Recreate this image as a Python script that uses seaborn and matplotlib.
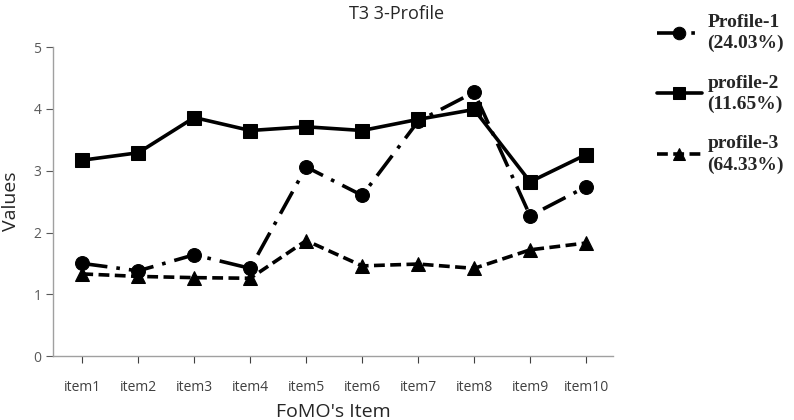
#!/usr/bin/env python3

# T3 3-profile plot of FoMO item means

import matplotlib
matplotlib.use("Agg")
import matplotlib.pyplot as plt
import seaborn as sns
import pandas as pd

items = ["item1", "item2", "item3", "item4", "item5",
         "item6", "item7", "item8", "item9", "item10"]
profile_1 = [1.50, 1.38, 1.64, 1.42, 3.06, 2.60, 3.80, 4.27, 2.27, 2.74]
profile_2 = [3.17, 3.29, 3.86, 3.65, 3.71, 3.65, 3.83, 3.99, 2.82, 3.26]
profile_3 = [1.33, 1.29, 1.27, 1.26, 1.87, 1.46, 1.49, 1.42, 1.72, 1.83]
series_labels = ["Profile-1\n(24.03%)", "profile-2\n(11.65%)", "profile-3\n(64.33%)"]

sns.set_style("white")
plt.rcParams["font.family"] = ["Open Sans", "DejaVu Sans"]


def main():
    rows = []
    for label, vals in zip(series_labels, [profile_1, profile_2, profile_3]):
        for i, v in enumerate(vals):
            rows.append({"Item": i, "Value": v, "Series": label})
    df = pd.DataFrame(rows)

    fig = plt.figure(figsize=(7.94, 4.2), dpi=100)
    ax = fig.add_axes([0.067, 0.152, 0.705, 0.736])
    p = sns.lineplot(
        data=df, x="Item", y="Value", hue="Series", style="Series",
        palette=["black", "black", "black"],
        markers=["o", "s", "^"],
        dashes=[(7, 2.5, 1, 2.5), "", (3, 1.5)],
        markersize=10, linewidth=2.6, markeredgecolor="black",
        ax=ax, legend=True,
    )
    p.set_xlim(-0.52, 9.48)
    p.set_ylim(0, 5)
    p.set_yticks(range(0, 6))
    p.set_xticks(range(len(items)))
    p.set_xticklabels(items)
    p.tick_params(axis="both", labelsize=10, colors="#595959", length=5,
                  direction="out", bottom=True, left=True, width=0.8)
    p.tick_params(axis="x", pad=12, colors="#404040")
    for side in ["top", "right"]:
        p.spines[side].set_visible(False)
    for side in ["left", "bottom"]:
        p.spines[side].set_color("#a0a0a0")
        p.spines[side].set_linewidth(1)
    p.set_xlabel("FoMO's Item", fontsize=14, labelpad=6)
    p.set_ylabel("Values", fontsize=14, labelpad=10)
    fig.text(0.5, 0.967, "T3 3-Profile", ha="center", va="center", fontsize=13)

    handles, labels = p.get_legend_handles_labels()
    for h in handles:
        h.set_markersize(9)
    p.get_legend().remove()
    leg = fig.legend(
        handles, labels,
        loc="upper left", bbox_to_anchor=(0.815, 0.99),
        frameon=False, handlelength=2.3, handletextpad=0.3,
        labelspacing=1.15, borderaxespad=0.1,
        prop={"family": "Liberation Serif", "weight": "bold", "size": 14},
    )
    for t in leg.get_texts():
        t.set_linespacing(1.3)
    plt.savefig("out.png", dpi=100)


if __name__ == "__main__":
    main()
